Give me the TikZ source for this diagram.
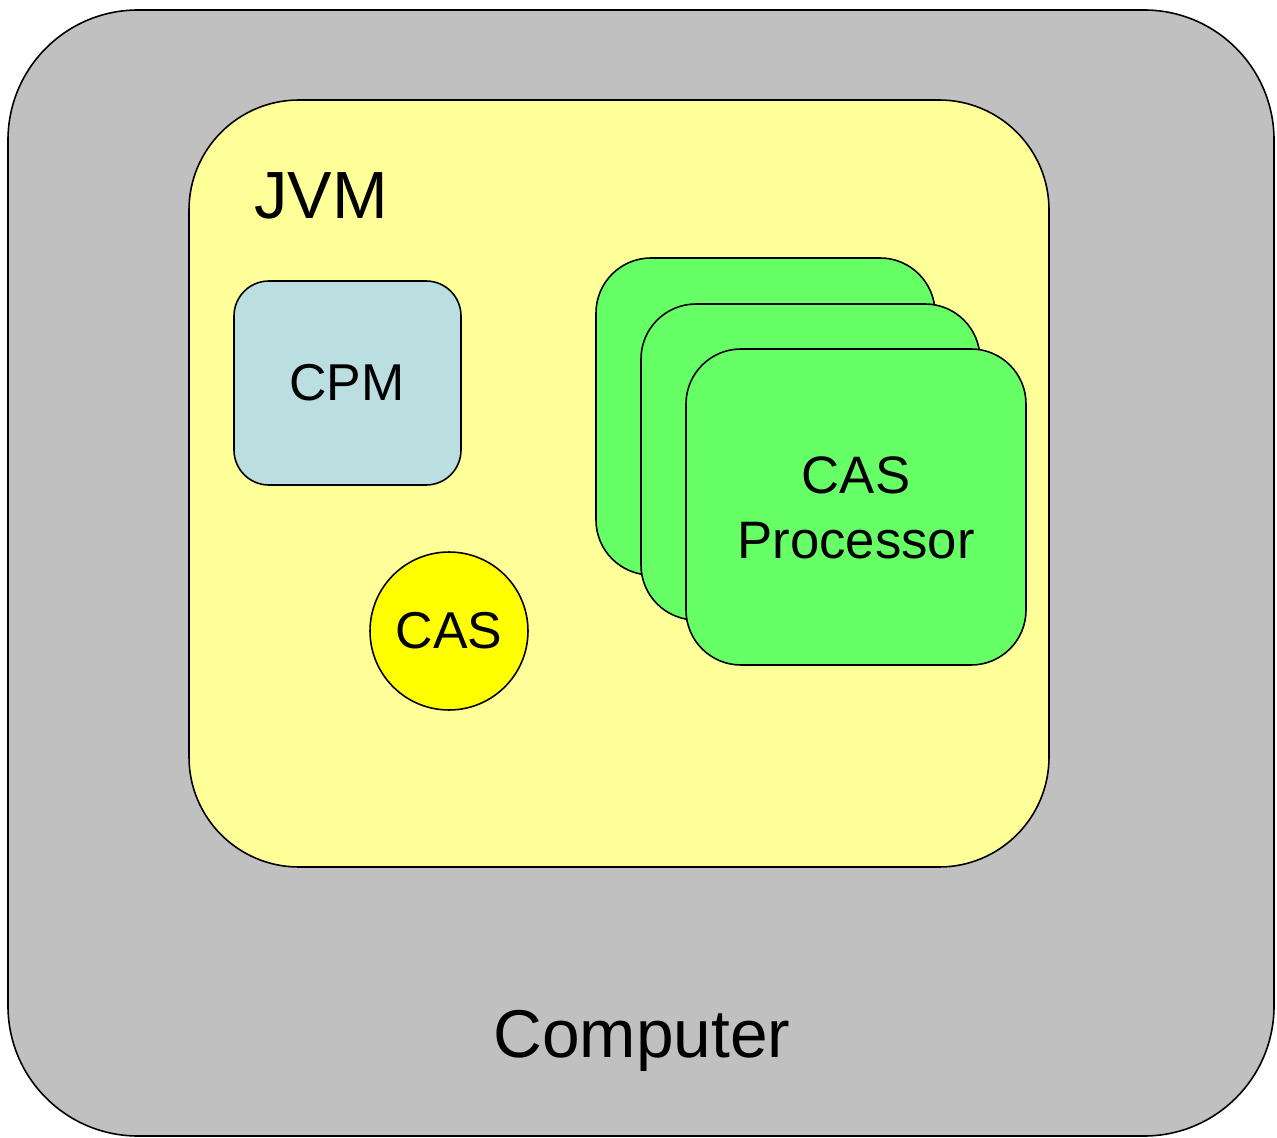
\documentclass[tikz,border=0pt]{standalone}
\usepackage{fontspec}
\setmainfont{Liberation Sans}
\begin{document}
\begin{tikzpicture}[x=0.02cm,y=-0.02cm,
  box/.style={draw=black,line width=0.9pt},
  lbl/.style={inner sep=0pt,align=center}]
\useasboundingbox (0,0) rectangle (1277,1138);
\definecolor{compgray}{HTML}{C0C0C0}
\definecolor{jvmyellow}{HTML}{FFFF99}
\definecolor{cpmblue}{HTML}{BBDFE0}
\definecolor{casyellow}{HTML}{FFFF00}
\definecolor{procgreen}{HTML}{66FF66}
\draw[box,fill=compgray,rounded corners=2.6cm] (8,10) rectangle (1274,1136);
\draw[box,fill=jvmyellow,rounded corners=2.2cm] (189,100) rectangle (1049,867);
\draw[box,fill=cpmblue,rounded corners=0.7cm] (234,281) rectangle (461,485);
\node[box,circle,fill=casyellow,minimum size=3.16cm,inner sep=0pt] (cas) at (449,631) {};
\draw[box,fill=procgreen,rounded corners=1.1cm] (596,258) rectangle (935,575);
\draw[box,fill=procgreen,rounded corners=1.1cm] (641,304) rectangle (980,620);
\draw[box,fill=procgreen,rounded corners=1.1cm] (686,349) rectangle (1026,665);
\node[lbl,font=\fontsize{38}{44}\selectfont] (jvm) at (321,196) {JVM};
\node[lbl,font=\fontsize{29.5}{36}\selectfont] (cpm) at (347,383) {CPM};
\node[lbl,font=\fontsize{29.5}{36}\selectfont] (caslbl) at (cas) {CAS};
\node[lbl,font=\fontsize{30}{37}\selectfont] (proc) at (856,508) {CAS\\Processor};
\node[lbl,font=\fontsize{38.5}{44}\selectfont] (comp) at (642,1041) {Computer};
\end{tikzpicture}
\end{document}
